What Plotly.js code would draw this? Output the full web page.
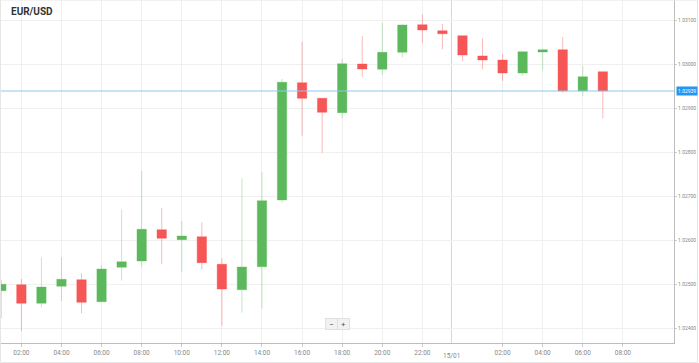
<!DOCTYPE html>
<html><head><meta charset="utf-8">
<script src="https://cdn.plot.ly/plotly-3.0.1.min.js"></script>
<style>html,body{margin:0;padding:0;background:#fff}#chart{width:699px;height:363px}</style>
</head><body><div id="chart"></div>
<script>
const times = ['2025-01-14 01:00','2025-01-14 02:00','2025-01-14 03:00','2025-01-14 04:00','2025-01-14 05:00','2025-01-14 06:00','2025-01-14 07:00','2025-01-14 08:00','2025-01-14 09:00','2025-01-14 10:00','2025-01-14 11:00','2025-01-14 12:00','2025-01-14 13:00','2025-01-14 14:00','2025-01-14 15:00','2025-01-14 16:00','2025-01-14 17:00','2025-01-14 18:00','2025-01-14 19:00','2025-01-14 20:00','2025-01-14 21:00','2025-01-14 22:00','2025-01-14 23:00','2025-01-15 00:00','2025-01-15 01:00','2025-01-15 02:00','2025-01-15 03:00','2025-01-15 04:00','2025-01-15 05:00','2025-01-15 06:00','2025-01-15 07:00'];
const openP  = [1.024848,1.024984,1.024561,1.024948,1.025098,1.024598,1.025380,1.025523,1.026234,1.026007,1.026075,1.025448,1.024870,1.025393,1.026909,1.029575,1.029220,1.028893,1.030000,1.029880,1.030266,1.030893,1.030757,1.030643,1.030182,1.030091,1.029795,1.030273,1.030325,1.029386,1.029825];
const highP  = [1.025091,1.025114,1.025607,1.025607,1.025243,1.025432,1.026698,1.027568,1.026727,1.026432,1.026402,1.025584,1.027402,1.027545,1.029659,1.030507,1.029220,1.030114,1.030636,1.030939,1.030902,1.031130,1.030909,1.030643,1.030584,1.030227,1.030290,1.030335,1.030614,1.029955,1.029825];
const lowP   = [1.024227,1.023932,1.024470,1.024614,1.024334,1.024590,1.025075,1.025380,1.025448,1.025273,1.025334,1.024052,1.024348,1.024439,1.026848,1.028370,1.027984,1.028766,1.029711,1.029750,1.030152,1.030484,1.030334,1.030068,1.029880,1.029614,1.029734,1.029857,1.029348,1.029273,1.028766];
const closeP = [1.024993,1.024561,1.024932,1.025107,1.024584,1.025341,1.025507,1.026243,1.026039,1.026091,1.025484,1.024886,1.025386,1.026893,1.029584,1.029220,1.028902,1.030007,1.029886,1.030266,1.030886,1.030773,1.030689,1.030205,1.030091,1.029795,1.030280,1.030325,1.029386,1.029711,1.029386];
const xTickVals = ['2025-01-14 02:00','2025-01-14 04:00','2025-01-14 06:00','2025-01-14 08:00','2025-01-14 10:00','2025-01-14 12:00','2025-01-14 14:00','2025-01-14 16:00','2025-01-14 18:00','2025-01-14 20:00','2025-01-14 22:00','2025-01-15 02:00','2025-01-15 04:00','2025-01-15 06:00','2025-01-15 08:00'];
const xTickText = ['02:00','04:00','06:00','08:00','10:00','12:00','14:00','16:00','18:00','20:00','22:00','02:00','04:00','06:00','08:00'];
const yTickVals = [1.024,1.025,1.026,1.027,1.028,1.029,1.030,1.031];
const yTickText = ['1.02400','1.02500','1.02600','1.02700','1.02800','1.02900','1.03000','1.03100'];
const currentPrice = 1.029386;
const currentLabel = '1.02939';
const dateMarkX = '2025-01-14 23:27';
const dateMarkLabel = '15/01';
const title = 'EUR/USD';

const green = '#5cb85c', red = '#f75656';
const trace = {
  type: 'candlestick', x: times, open: openP, high: highP, low: lowP, close: closeP,
  increasing: {line: {color: 'rgba(92,184,92,0.35)', width: 1}, fillcolor: green},
  decreasing: {line: {color: 'rgba(247,86,86,0.4)', width: 1}, fillcolor: red},
  whiskerwidth: 0, hoverinfo: 'skip', showlegend: false
};
const W = 674, H = 343;
const layout = {
  width: 699, height: 363,
  margin: {l: 0, r: 25, t: 0, b: 20},
  paper_bgcolor: '#fff', plot_bgcolor: '#fff',
  boxgap: 0.33,
  showlegend: false,
  font: {family: 'Roboto, Arial, sans-serif', color: '#888'},
  xaxis: {
    type: 'date', range: ['2025-01-14 00:56', '2025-01-15 10:33'],
    rangeslider: {visible: false},
    tickvals: xTickVals, ticktext: xTickText,
    tickfont: {size: 6.5, color: '#888'},
    showgrid: true, gridcolor: '#f0f0f0', gridwidth: 1,
    ticks: 'outside', ticklen: 3, tickcolor: '#ccc',
    showline: true, linecolor: '#bdbdbd', linewidth: 1,
    zeroline: false, fixedrange: true
  },
  yaxis: {
    side: 'right', range: [1.0236591, 1.0314545],
    tickvals: yTickVals, ticktext: yTickText,
    tickfont: {size: 5, color: '#888'},
    ticklabelstandoff: 0,
    showgrid: true, gridcolor: '#f0f0f0', gridwidth: 1,
    ticks: 'outside', ticklen: 2, tickcolor: '#ccc',
    showline: true, linecolor: '#bdbdbd', linewidth: 1,
    zeroline: false, fixedrange: true
  },
  shapes: [
    {type: 'line', xref: 'x', yref: 'paper', x0: dateMarkX, x1: dateMarkX, y0: 0, y1: 1, line: {color: '#d6d6d6', width: 1}, layer: 'below'},
    {type: 'line', xref: 'paper', yref: 'y', x0: 0, x1: 1, y0: currentPrice, y1: currentPrice, line: {color: '#8cc8f0', width: 1}},
    {type: 'rect', xref: 'paper', yref: 'paper', x0: 0.5 / W, x1: 697.5 / W, y0: (H - 362.5) / H, y1: 1, line: {color: '#e6e6e6', width: 1}, fillcolor: 'rgba(0,0,0,0)'}
  ],
  annotations: [
    {xref: 'paper', yref: 'paper', x: 9 / W, y: (H - 12) / H, xanchor: 'left', yanchor: 'middle', text: '<b>' + title + '</b>', showarrow: false, font: {size: 10, color: '#333', family: 'Roboto, Arial, sans-serif'}},
    {xref: 'paper', yref: 'y', x: 675.5 / W, y: currentPrice, xanchor: 'left', yanchor: 'middle', text: currentLabel, showarrow: false, bgcolor: '#2196f3', borderpad: 1, font: {size: 5, color: '#fff'}},
    {xref: 'x', yref: 'paper', x: dateMarkX, y: (H - 356) / H, xanchor: 'center', yanchor: 'middle', text: dateMarkLabel, showarrow: false, font: {size: 6.5, color: '#888'}},
    {xref: 'paper', yref: 'paper', x: 331.5 / W, y: (H - 323.5) / H, xanchor: 'center', yanchor: 'middle', text: '−', showarrow: false, bgcolor: '#f2f2f2', bordercolor: '#e0e0e0', borderwidth: 1, borderpad: 1, width: 9, height: 8, font: {size: 8, color: '#555'}},
    {xref: 'paper', yref: 'paper', x: 343.5 / W, y: (H - 323.5) / H, xanchor: 'center', yanchor: 'middle', text: '+', showarrow: false, bgcolor: '#f2f2f2', bordercolor: '#e0e0e0', borderwidth: 1, borderpad: 1, width: 9, height: 8, font: {size: 8, color: '#555'}}
  ]
};
Plotly.newPlot('chart', [trace], layout, {staticPlot: true, displayModeBar: false});
</script>
</body></html>
